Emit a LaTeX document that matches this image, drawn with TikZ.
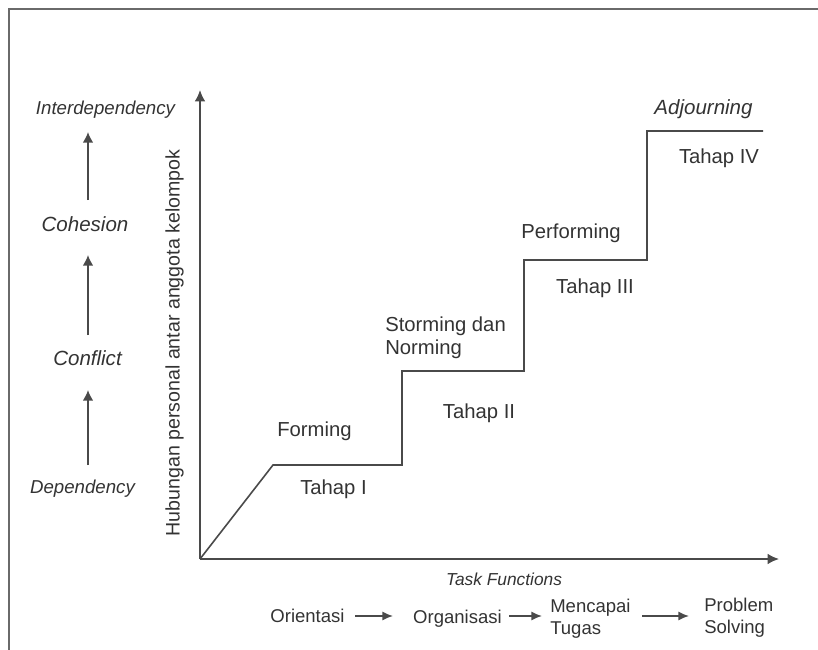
\documentclass[tikz,border=0pt]{standalone}
\usepackage{fontspec}
\setmainfont{Liberation Sans}
\usetikzlibrary{arrows.meta}
\definecolor{txt}{HTML}{333333}
\definecolor{ln}{HTML}{4A4A4A}
\definecolor{frm}{HTML}{6A6A6A}
\begin{document}
\begin{tikzpicture}[x=0.75pt,y=-0.75pt,
  lbl/.style={font=\fontsize{15.2}{18}\selectfont, text=txt, inner sep=0pt, anchor=mid, yshift=-2.2pt},
  lblw/.style={lbl, anchor=mid west},
  ital/.style={font=\fontsize{15.4}{18}\itshape\selectfont, text=txt, inner sep=0pt, anchor=mid, yshift=-2.2pt},
  itals/.style={font=\fontsize{14}{17}\itshape\selectfont, text=txt, inner sep=0pt, anchor=mid, yshift=-2pt},
  bot/.style={font=\fontsize{13.9}{16}\selectfont, text=txt, inner sep=0pt, anchor=mid, yshift=-2pt},
  botw/.style={bot, anchor=mid west},
  axis/.style={draw=ln, line width=1.2pt, -{Latex[length=8.5pt,width=8pt]}},
  uparr/.style={draw=ln, line width=1.2pt, -{Latex[length=8pt,width=8pt]}},
  smarr/.style={draw=ln, line width=1.3pt, -{Latex[length=8pt,width=7pt]}},
  stepline/.style={draw=ln, line width=1.2pt}]
\useasboundingbox (0,0) rectangle (818,650);
% frame
\draw[frm, line width=1.1pt] (818,9) -- (9,9) -- (9,650);
% axes
\coordinate (O) at (200,559);
\coordinate (ytip) at (200,90);
\coordinate (xtip) at (779,559);
\draw[axis] (O) -- (ytip);
\draw[axis] (O) -- (xtip);
% step curve
\draw[stepline, line join=miter] (O) -- (273,465) -- (402,465) -- (402,371) -- (524,371) -- (524,260) -- (647,260) -- (647,131) -- (763,131);
% stage labels
\node[lbl] (forming) at (314.5,430) {Forming};
\node[lbl] (t1) at (333.5,488) {Tahap I};
\node[lblw] (storm) at (385,325) {Storming dan};
\node[lblw] (norm) at (385,348) {Norming};
\node[lbl] (t2) at (479,412) {Tahap II};
\node[lbl] (perf) at (571,232) {Performing};
\node[lbl] (t3) at (595,287) {Tahap III};
\node[lbl] (t4) at (719,157) {Tahap IV};
\node[ital] (adj) at (703.5,108) {Adjourning};
% y label
\node[font=\fontsize{14.7}{17}\selectfont, text=txt, inner sep=0pt, anchor=mid, rotate=90] (ylab) at (176,343) {Hubungan personal antar anggota kelompok};
% left column
\node[itals] (inter) at (105.5,108) {Interdependency};
\node[ital] (coh) at (85,225) {Cohesion};
\node[ital] (conf) at (87.5,359) {Conflict};
\node[itals] (dep) at (82.5,487) {Dependency};
\coordinate (a1s) at (88,465); \coordinate (a1e) at (88,390);
\coordinate (a2s) at (88,335); \coordinate (a2e) at (88,255);
\coordinate (a3s) at (88,200); \coordinate (a3e) at (88,132);
\draw[uparr] (a1s) -- (a1e);
\draw[uparr] (a2s) -- (a2e);
\draw[uparr] (a3s) -- (a3e);
% x label
\node[font=\fontsize{13}{16}\itshape\selectfont, text=txt, inner sep=0pt, anchor=mid, yshift=-2pt] (task) at (504,579) {Task Functions};
% bottom sequence
\node[bot] (ori) at (307.5,616) {Orientasi};
\node[bot] (org) at (457.5,617) {Organisasi};
\node[botw] (menc) at (550,606) {Mencapai};
\node[botw] (tug) at (550,628) {Tugas};
\node[botw] (prob) at (704,605) {Problem};
\node[botw] (solv) at (704,627) {Solving};
\coordinate (b1s) at (355,616); \coordinate (b1e) at (393,616);
\coordinate (b2s) at (509,616); \coordinate (b2e) at (542,616);
\coordinate (b3s) at (642,616); \coordinate (b3e) at (689,616);
\draw[smarr] (b1s) -- (b1e);
\draw[smarr] (b2s) -- (b2e);
\draw[smarr] (b3s) -- (b3e);
\end{tikzpicture}
\end{document}
